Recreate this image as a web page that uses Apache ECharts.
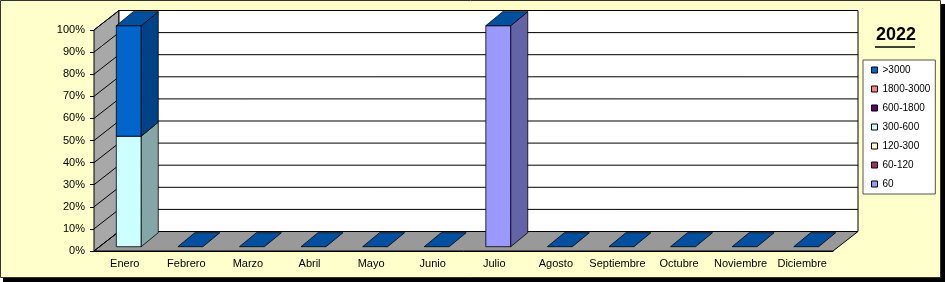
<!DOCTYPE html>
<html>
<head>
<meta charset="utf-8">
<script src="https://cdn.jsdelivr.net/npm/echarts@6/dist/echarts.min.js"></script>
<style>
html,body{margin:0;padding:0;background:#fff;}
#chart{width:945px;height:282px;}
</style>
</head>
<body>
<div id="chart"></div>
<script>
const categories = ['Enero','Febrero','Marzo','Abril','Mayo','Junio','Julio','Agosto','Septiembre','Octubre','Noviembre','Diciembre'];
// stacked shares (%) from bottom to top
const seriesNames = ['60','60-120','120-300','300-600','600-1800','1800-3000','>3000'];
const s60       = [0,0,0,0,0,0,100,0,0,0,0,0];
const s60_120   = [0,0,0,0,0,0,0,0,0,0,0,0];
const s120_300  = [0,0,0,0,0,0,0,0,0,0,0,0];
const s300_600  = [50,0,0,0,0,0,0,0,0,0,0,0];
const s600_1800 = [0,0,0,0,0,0,0,0,0,0,0,0];
const s1800_3000= [0,0,0,0,0,0,0,0,0,0,0,0];
const s3000     = [50,0,0,0,0,0,0,0,0,0,0,0];
const yTicks = [0,10,20,30,40,50,60,70,80,90,100];
const legendTitle = '2022';

const seriesValues = [s60,s60_120,s120_300,s300_600,s600_1800,s1800_3000,s3000];
const colors = ['#9999FF','#993366','#FFFFCC','#CCFFFF','#660066','#FF8080','#0066CC'];

const FONT = "'Liberation Sans', Arial, sans-serif";
const DX = 25, DY = -19.5;          // depth of the 3D box
const BF = [4, -4.3];               // bar front offset
const BB = [21, -18.3];             // bar back offset
const BAR_W = 0.405;

function shade(hex, f){
  const n = parseInt(hex.slice(1),16);
  const r = Math.round(((n>>16)&255)*f), g = Math.round(((n>>8)&255)*f), b = Math.round((n&255)*f);
  return 'rgb('+r+','+g+','+b+')';
}

function frameRender(params, api){
  const cs = params.coordSys;
  const x0 = cs.x, x1 = cs.x + cs.width, yt = cs.y, yb = cs.y + cs.height;
  const st = {stroke:'#000', lineWidth:1};
  const children = [
    {type:'polygon', shape:{points:[[x0,yb],[x0,yt],[x0+DX,yt+DY],[x0+DX,yb+DY]]}, style:Object.assign({fill:'#A8A8A8'},st)},
    {type:'polygon', shape:{points:[[x0+DX,yt+DY],[x1+DX,yt+DY],[x1+DX,yb+DY],[x0+DX,yb+DY]]}, style:Object.assign({fill:'#FFFFFF'},st)},
    {type:'polygon', shape:{points:[[x0,yb],[x1,yb],[x1+DX,yb+DY],[x0+DX,yb+DY]]}, style:Object.assign({fill:'#999999'},st)}
  ];
  yTicks.forEach(function(v){
    const y = api.coord([0, v])[1];
    children.push({type:'polyline', shape:{points:[[x0,y],[x0+DX,y+DY],[x1+DX,y+DY]]}, style:{stroke:'#000', lineWidth:1, fill:null}});
  });
  return {type:'group', children:children};
}

function makeBarRender(color, drawTop){
  const side = shade(color, 0.65), top = shade('#0066CC', 0.78);
  return function(params, api){
    const c = api.value(0), b = api.value(1), t = api.value(2);
    const pb = api.coord([c, b]), pt = api.coord([c, t]);
    const w = api.size([1, 0])[0] * BAR_W;
    const xl = pb[0] - w/2 + BF[0], xr = xl + w;
    const yB = pb[1] + BF[1], yT = pt[1] + BF[1];
    const ddx = BB[0]-BF[0], ddy = BB[1]-BF[1];
    const st = {stroke:'#000', lineWidth:0.8};
    const children = [];
    if (t > b){
      children.push({type:'rect', shape:{x:xl, y:yT, width:w, height:yB-yT}, style:Object.assign({fill:color},st)});
      children.push({type:'polygon', shape:{points:[[xr,yB],[xr,yT],[xr+ddx,yT+ddy],[xr+ddx,yB+ddy]]}, style:Object.assign({fill:side},st)});
    }
    if (drawTop){
      children.push({type:'polygon', shape:{points:[[xl,yT],[xr,yT],[xr+ddx,yT+ddy],[xl+ddx,yT+ddy]]}, style:Object.assign({fill:top},st)});
    }
    return {type:'group', children:children};
  };
}

const series = [{
  type:'custom', name:'frame', coordinateSystem:'cartesian2d', z:1, silent:true,
  renderItem: frameRender, data:[[0,0]], clip:false
}];
const cum = categories.map(function(){return 0;});
seriesValues.forEach(function(vals, si){
  const data = vals.map(function(v, i){ const b = cum[i]; cum[i] += v; return [i, b, cum[i]]; });
  series.push({
    type:'custom', name:seriesNames[si], coordinateSystem:'cartesian2d', z:2 + si,
    encode:{x:0, y:[1,2]},
    itemStyle:{color:colors[si], borderColor:'#000', borderWidth:1},
    renderItem: makeBarRender(colors[si], si === seriesValues.length - 1),
    data:data, clip:false
  });
});

const chart = echarts.init(document.getElementById('chart'), null, {renderer:'canvas'});
chart.setOption({
  backgroundColor:'#FFFFFF',
  animation:false,
  textStyle:{fontFamily:FONT},
  graphic:[
    {type:'rect', z:-10, shape:{x:3, y:4, width:942, height:278}, style:{fill:'#000'}},
    {type:'rect', z:-9, shape:{x:0.5, y:0.5, width:940, height:277}, style:{fill:'#FFFFCC', stroke:'#333', lineWidth:1}},
    {type:'line', z:10, shape:{x1:875, y1:47, x2:915, y2:47}, style:{stroke:'#000', lineWidth:1.5}}
  ],
  title:{text:legendTitle, left:876, top:26, padding:0,
    textStyle:{fontFamily:FONT, fontSize:18, fontWeight:'bold', color:'#000'}},
  legend:{
    data:seriesNames.slice().reverse(),
    orient:'vertical', left:863, top:60,
    padding:[4,5,4,8], itemGap:7, itemWidth:6, itemHeight:6, icon:'rect',
    backgroundColor:'#fff', borderColor:'#555', borderWidth:1,
    itemStyle:{borderColor:'#000', borderWidth:1},
    textStyle:{fontFamily:FONT, fontSize:10, color:'#000', lineHeight:12}
  },
  grid:{left:94, top:30, width:739, height:221, containLabel:false},
  xAxis:{
    type:'category', data:categories, boundaryGap:true,
    axisLine:{lineStyle:{color:'#000', width:1}},
    axisTick:{length:4, lineStyle:{color:'#000'}},
    axisLabel:{fontFamily:FONT, fontSize:11, color:'#000', margin:7, interval:0}
  },
  yAxis:{
    type:'value', min:0, max:100, interval:10,
    axisLine:{show:true, lineStyle:{color:'#000', width:1}},
    axisTick:{show:true, length:4, lineStyle:{color:'#000'}},
    splitLine:{show:false},
    axisLabel:{fontFamily:FONT, fontSize:11, color:'#000', margin:9, formatter:'{value}%'}
  },
  series:series
});
</script>
</body>
</html>
